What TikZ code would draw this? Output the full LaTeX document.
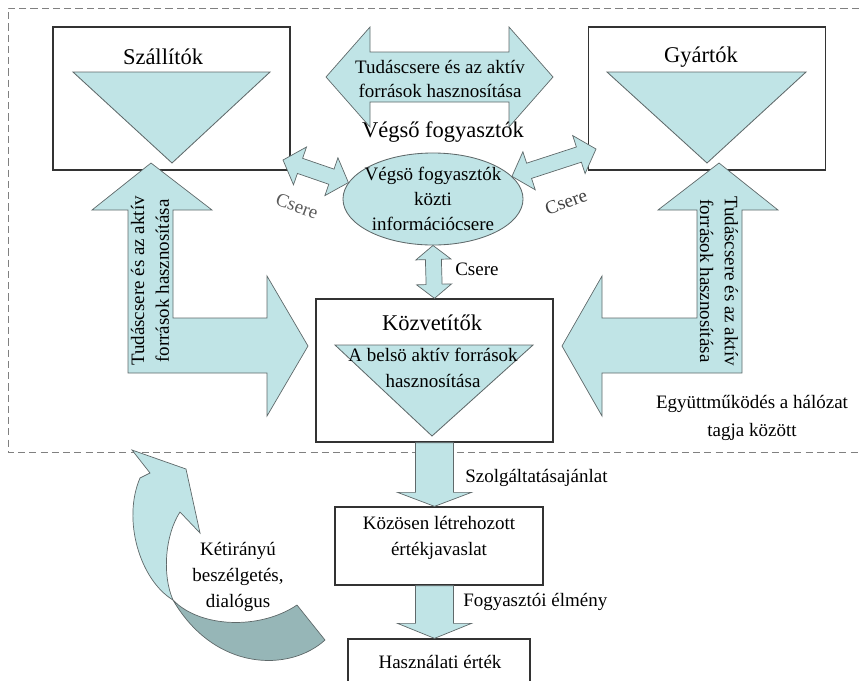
\documentclass[tikz,border=0pt]{standalone}
\usepackage{fontspec}
\setmainfont{Liberation Serif}
\usetikzlibrary{calc,shapes.geometric}

\definecolor{arrowfill}{RGB}{192,228,230}
\definecolor{backfill}{RGB}{150,182,183}
\definecolor{edgegray}{RGB}{95,105,106}

% block arrow with two heads: from, to, shaft, head, head length (in px)
\newcommand{\twowayarrow}[5]{%
  \path (#1) coordinate (tA) (#2) coordinate (tB);
  \path ($(tA)!#5*0.025cm!(tB)$) coordinate (hA) ($(tB)!#5*0.025cm!(tA)$) coordinate (hB);
  \draw[blockarrow] (tA) -- ($(hA)!#4*0.025cm!90:(tB)$) -- ($(hA)!#3*0.025cm!90:(tB)$)
    -- ($(hB)!#3*0.025cm!-90:(tA)$) -- ($(hB)!#4*0.025cm!-90:(tA)$) -- (tB)
    -- ($(hB)!#4*0.025cm!90:(tA)$) -- ($(hB)!#3*0.025cm!90:(tA)$)
    -- ($(hA)!#3*0.025cm!-90:(tB)$) -- ($(hA)!#4*0.025cm!-90:(tB)$) -- cycle;
}
% block arrow with one head
\newcommand{\onewayarrow}[5]{%
  \path (#1) coordinate (tA) (#2) coordinate (tB);
  \path ($(tB)!#5*0.025cm!(tA)$) coordinate (hB);
  \draw[blockarrow] ($(tA)!#3*0.025cm!90:(tB)$) -- ($(hB)!#3*0.025cm!-90:(tA)$)
    -- ($(hB)!#4*0.025cm!-90:(tA)$) -- (tB) -- ($(hB)!#4*0.025cm!90:(tA)$)
    -- ($(hB)!#3*0.025cm!90:(tA)$) -- ($(tA)!#3*0.025cm!-90:(tB)$) -- cycle;
}

\begin{document}
\begin{tikzpicture}[x=0.025cm, y=-0.025cm,
    box/.style={draw=black!80, line width=0.9pt, minimum width=5.925cm, minimum height=3.575cm, inner sep=0pt},
    smallbox/.style={draw=black!80, line width=0.9pt, inner sep=0pt},
    funnel/.style={fill=arrowfill, draw=edgegray, line width=0.6pt},
    blockarrow/.style={fill=arrowfill, draw=edgegray, line width=0.5pt},
    elli/.style={ellipse, fill=arrowfill, draw=edgegray, line width=0.6pt, minimum width=4.5cm, minimum height=2.3cm, inner sep=0pt},
    title/.style={font=\fontsize{16}{20}\selectfont, inner sep=0pt},
    txt/.style={font=\fontsize{13.5}{18}\selectfont, align=center, inner sep=0pt}]
    \useasboundingbox (0,0) rectangle (859,680);

    % the network frame, open to the right
    \draw[gray, line width=0.7pt, dash pattern=on 5pt off 3pt] (870,8) -- (8,8) -- (8,452) -- (870,452);

    % the actors
    \node[box] (szall) at (171.5,98.5) {};
    \node[box] (gyart) at (707,98.5) {};
    \node[box] (kozv) at (434.5,370.5) {};
    \draw[funnel] (73,72) -- (270,72) -- (172,163) -- cycle;
    \draw[funnel] (607,72) -- (806,72) -- (707,163) -- cycle;
    \draw[funnel] (335,345) -- (533,345) -- (432,436) -- cycle;
    \node[elli] (fogy) at (433,199) {};

    \node[title] (szallt) at (163,57) {Szállítók};
    \node[title] (gyartt) at (701,57) {Gyártók};
    \node[title] (kozvt) at (432,323) {Közvetítők};
    \node[txt, font=\fontsize{13.5}{19}\selectfont] (belso) at (433,368) {A belsö aktív források\\hasznosítása};
    \node[title] (fogyt) at (443,132) {Végső fogyasztók};
    \node[txt, font=\fontsize{13.5}{18}\selectfont] (fogytxt) at (fogy) {Végsö fogyasztók\\közti\\információcsere};

    % the exchange arrows
    \coordinate (tl) at (326,77);
    \coordinate (tr) at (553,77);
    \coordinate (szin) at (283,160);
    \coordinate (gyin) at (596,149);
    \twowayarrow{tl}{tr}{25}{50}{44}
    \twowayarrow{szin}{fogy.169}{8}{20}{18}
    \twowayarrow{fogy.16}{gyin}{8}{20}{18}
    \twowayarrow{fogy.south}{kozv.north}{8}{17.5}{14}
    \node[txt, font=\fontsize{13.5}{16.5}\selectfont] (tudas) at (440,79) {Tudáscsere és az aktív\\források hasznosítása};
    \node[txt, rotate=-20, text=black!65] (csere1) at (297,206) {Csere};
    \node[txt, rotate=20, text=black!75] (csere2) at (566,202) {Csere};
    \node[txt, anchor=west] (csere3) at (455,269) {Csere};

    % the bent arrows
    \draw[blockarrow] (128,373) -- (128,210) -- (92,210) -- (151,163) -- (212,210) -- (173,210) -- (173,318)
        -- (267,318) -- (267,276) -- (308,346) -- (267,416) -- (267,373) -- cycle;
    \draw[blockarrow] (742,373) -- (742,210) -- (778,210) -- (719,163) -- (658,210) -- (697,210) -- (697,318)
        -- (602,318) -- (602,276) -- (562,346) -- (602,416) -- (602,373) -- cycle;
    \node[txt, rotate=90, font=\fontsize{13.5}{17.5}\selectfont] (tudasb) at (150,281) {Tudáscsere és az aktív\\források hasznosítása};
    \node[txt, rotate=-90, font=\fontsize{13.5}{17.5}\selectfont] (tudasj) at (719,281) {Tudáscsere és az aktív\\források hasznosítása};
    \node[txt, font=\fontsize{13.5}{19.5}\selectfont] (egyutt) at (752,418) {Együttműködés a hálózat\\tagja között};

    % the value chain below
    \node[smallbox, minimum width=5.2cm, minimum height=1.95cm] (kozos) at (439,546) {};
    \node[txt] (kozostxt) at (439,538) {Közösen létrehozott\\értékjavaslat};
    \node[smallbox, minimum width=4.55cm, minimum height=1.525cm] (haszn) at (439,669.5) {};
    \node[txt] (haszntxt) at (440,662) {Használati érték};
    \onewayarrow{kozv.south}{kozv.south |- kozos.north}{19}{37}{14}
    \onewayarrow{kozv.south |- kozos.south}{kozv.south |- haszn.north}{19}{37}{15}
    \node[txt, anchor=west] (szolg) at (465,478) {Szolgáltatásajánlat};
    \node[txt, anchor=west] (elmeny) at (463,602) {Fogyasztói élmény};

    % the dialogue arrow
    \draw[blockarrow, fill=backfill] (173,600) .. controls (200,628) and (260,630) .. (297,605) -- (325,640)
        .. controls (290,672) and (215,672) .. (173,600) -- cycle;
    \draw[blockarrow] (132,450) -- (186,469) -- (200,533) -- (180,512) .. controls (165,535) and (162,575) .. (173,600)
        .. controls (140,580) and (122,520) .. (140,478) -- (150,473) -- cycle;
    \node[txt, font=\fontsize{13.5}{18.5}\selectfont] (dialog) at (238,577) {Kétirányú\\beszélgetés,\\dialógus};
\end{tikzpicture}
\end{document}
